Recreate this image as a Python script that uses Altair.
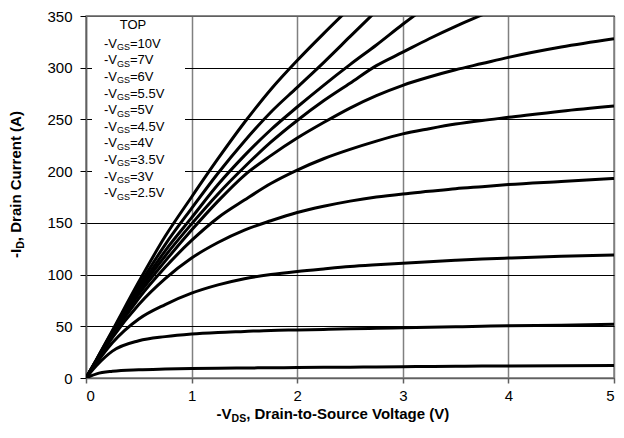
import altair as alt
import pandas as pd

# ---- data ----
vds = [0, 0.1, 0.25, 0.5, 0.75, 1, 1.25, 1.5, 1.75, 2, 2.25, 2.5, 2.75, 3, 3.25, 3.5, 3.75, 4, 4.5, 5]

id_10v = [0, 18, 46, 93, 137, 175, 212, 247, 279, 307, 333, 358]
id_7v = [0, 18, 45, 89, 129, 164, 198, 229, 257, 281, 305, 330, 355]
id_6v = [0, 17.5, 44, 86, 123, 155, 187, 215, 240, 262, 283, 303, 322, 342, 361]
id_5p5v = [0, 17, 43, 84, 118, 149, 178, 204, 228, 249, 268, 285, 302, 315, 328, 340, 351, 362]
id_5v = [0, 17, 42, 81, 113, 143, 171, 196, 215, 232, 247, 261, 273, 283, 291, 298, 304, 310, 320, 328]
id_4p5v = [0, 16.5, 41, 77, 107, 133, 155, 172, 188, 201, 212, 221, 229, 236, 241, 245.5, 249, 252, 258, 263]
id_4v = [0, 16, 39, 71, 96, 116, 131, 143, 152, 160, 166, 171, 175, 178, 180.5, 183, 185, 187, 190, 193]
id_3p5v = [0, 14.5, 34, 57, 71, 82, 90, 96, 100, 103, 105.5, 107.8, 109.5, 111, 112.5, 113.8, 115, 116, 117.8, 119]
id_3v = [0, 12, 26, 36, 40, 42.5, 44, 45, 46, 46.5, 47, 47.5, 48, 48.5, 49, 49.5, 50, 50.5, 51, 52]
id_2p5v = [0, 4, 6.5, 8, 8.7, 9.2, 9.5, 9.7, 9.9, 10.1, 10.3, 10.5, 10.7, 10.9, 11.1, 11.3, 11.5, 11.6, 11.8, 12]

vgs_labels = ["10V", "7V", "6V", "5.5V", "5V", "4.5V", "4V", "3.5V", "3V", "2.5V"]
series = [id_10v, id_7v, id_6v, id_5p5v, id_5v, id_4p5v, id_4v, id_3p5v, id_3v, id_2p5v]

x_ticks = [0, 1, 2, 3, 4, 5]
y_ticks = [0, 50, 100, 150, 200, 250, 300, 350]

rows = []
for lab, vals in zip(vgs_labels, series):
    for v, i in zip(vds, vals):
        rows.append({"vds": v, "id": i, "vgs": lab})
df = pd.DataFrame(rows)

# ---- layout / style ----
FONT = "Liberation Sans"
W, H = 528, 362

REG = {'-': .333, 'V': .667, 'G': .778, 'S': .667, '=': .584, '.': .278,
       'T': .611, 'O': .778, 'P': .667}
for d in "0123456789":
    REG[d] = .556
BOLD = {'-': .333, 'I': .278, 'D': .722, ',': .278, ' ': .278, 'r': .389, 'a': .556,
        'i': .278, 'n': .611, 'C': .722, 'u': .611, 'e': .556, 't': .333, '(': .333,
        ')': .333, 'A': .722, 'V': .667, 'S': .667, 'o': .611, 'c': .556, 'l': .278,
        'g': .611}


def tw(s, size, bold=False):
    tab = BOLD if bold else REG
    return sum(tab.get(c, .556) for c in s) * size


def txt(s, px, py, size, bold=False, angle=0, align="left"):
    return alt.Chart(pd.DataFrame({"t": [s]})).mark_text(
        align=align, baseline="alphabetic", font=FONT, fontSize=size,
        fontWeight="bold" if bold else "normal", color="black", angle=angle
    ).encode(text="t:N", x=alt.value(px), y=alt.value(py))


x = alt.X("vds:Q", scale=alt.Scale(domain=[0, 5], nice=False),
          axis=alt.Axis(values=x_ticks, title=None, grid=True, gridColor="#808080",
                        gridWidth=1.5, domainColor="#606060", domainWidth=1.5,
                        tickColor="#606060", tickSize=5, tickWidth=1.5,
                        labelFont=FONT, labelFontSize=15, labelColor="black",
                        labelPadding=5, format="d"))
y = alt.Y("id:Q", scale=alt.Scale(domain=[0, 350], nice=False),
          axis=alt.Axis(values=y_ticks, title=None, grid=True, gridColor="black",
                        gridWidth=1, domainColor="#606060", domainWidth=1.5,
                        tickColor="black", tickSize=6, tickWidth=1,
                        labelFont=FONT, labelFontSize=15, labelColor="black",
                        labelPadding=8, format="d"))

one = pd.DataFrame({"a": [0]})

legend_box = alt.Chart(one).mark_rect(color="white").encode(
    x=alt.value(6), x2=alt.value(99), y=alt.value(1.5), y2=alt.value(192))

top_rule = alt.Chart(one).mark_rule(color="#808080", strokeWidth=1.5).encode(
    x=alt.value(0), x2=alt.value(W), y=alt.value(0))

lines = alt.Chart(df).mark_line(color="black", strokeWidth=3, interpolate="monotone",
                                clip=True).encode(x=x, y=y, detail="vgs:N")

layers = [legend_box, top_rule, lines]

# legend text
LS, SS = 13, 9
layers.append(txt("TOP", 47, 13.3, LS, align="center"))
for k, lab in enumerate(vgs_labels):
    yb = 31.7 + k * 16.6
    x0 = 18
    layers.append(txt("-V", x0, yb, LS))
    x1 = x0 + tw("-V", LS)
    layers.append(txt("GS", x1, yb + 2.5, SS))
    x2 = x1 + tw("GS", SS)
    layers.append(txt("=" + lab, x2, yb, LS))

# x-axis title: -V_DS, Drain-to-Source Voltage (V)
TS, TSS = 15, 10.5
p1, p2, p3 = "-V", "DS", ", Drain-to-Source Voltage (V)"
wt = tw(p1, TS, True) + tw(p2, TSS, True) + tw(p3, TS, True)
xs = 247.5 - wt / 2
yb = 402.5
layers.append(txt(p1, xs, yb, TS, True))
xs2 = xs + tw(p1, TS, True)
layers.append(txt(p2, xs2, yb + 3.5, TSS, True))
xs3 = xs2 + tw(p2, TSS, True)
layers.append(txt(p3, xs3, yb, TS, True))

# y-axis title: -I_D, Drain Current (A)  (rotated)
q1, q2, q3 = "-I", "D", ", Drain Current (A)"
lt = tw(q1, TS, True) + tw(q2, TSS, True) + tw(q3, TS, True)
xb = -65.5
ys = 168.5 + lt / 2
layers.append(txt(q1, xb, ys, TS, True, angle=270))
ys2 = ys - tw(q1, TS, True)
layers.append(txt(q2, xb + 3.5, ys2, TSS, True, angle=270))
ys3 = ys2 - tw(q2, TSS, True)
layers.append(txt(q3, xb, ys3, TS, True, angle=270))

chart = alt.layer(*layers).properties(
    width=W, height=H,
    padding={"left": 78, "top": 8, "right": 2, "bottom": 46},
    autosize=alt.AutoSizeParams(type="none"),
).configure_view(stroke="#808080", strokeWidth=1.5)

chart.save("out.html", embed_options={"renderer": "svg", "actions": False})
